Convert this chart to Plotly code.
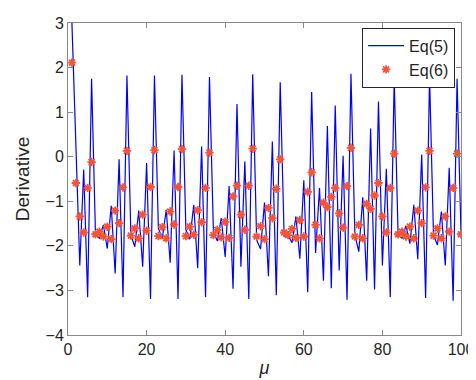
import plotly.graph_objects as go

# abscisse
mu = list(range(1, 101))

# Eq(5) - courbe bleue
eq5 = [3.0, 0.3, -2.44, -0.29, -3.15, 1.75, -1.76, -1.83, -1.53, -2.06,
       -1.10, -2.62, -0.06, -3.15, 1.82, -1.76, -2.02, -1.21, -2.47, -0.14,
       -3.19, 1.82, -1.61, -1.83, -1.19, -2.38, 0.14, -3.19, 1.84, -1.64,
       -1.85, -1.08, -2.50, 0.23, -3.15, 1.79, -1.68, -1.89, -1.38, -2.25,
       -0.66, -2.96, 1.18, -2.47, -0.11, -3.19, 1.85, -1.87, -2.07, -1.03,
       -2.68, 0.34, -3.11, 1.67, -1.79, -1.76, -1.93, -1.34, -2.29, -0.53,
       -3.04, 1.45, -2.16, -0.70, -2.78, 0.69, -2.95, 1.15, -2.55, 0.02,
       -3.21, 1.86, -1.76, -2.13, -0.91, -2.78, 0.63, -2.98, 1.24, -2.44,
       -0.27, -3.15, 1.76, -1.76, -1.83, -1.55, -1.95, -1.08, -2.30, 0.05,
       -3.17, 1.80, -1.76, -1.98, -1.23, -2.44, -0.25, -3.23, 1.75, -1.72]

# Eq(6) - étoiles rouges
eq6 = [2.11, -0.59, -1.34, -1.70, -0.70, -0.12, -1.74, -1.68, -1.79, -1.57,
       -1.85, -1.21, -1.49, -0.69, 0.13, -1.77, -1.61, -1.83, -1.30, -1.66,
       -0.68, 0.15, -1.78, -1.58, -1.83, -1.23, -1.52, -0.68, 0.17, -1.78,
       -1.57, -1.75, -1.20, -1.47, -0.70, 0.09, -1.76, -1.64, -1.81, -1.46,
       -1.82, -0.89, -0.65, -1.30, -1.64, -0.65, 0.18, -1.79, -1.56, -1.85,
       -1.15, -1.38, -0.72, -0.06, -1.70, -1.76, -1.62, -1.82, -1.42, -1.79,
       -0.79, -0.35, -1.53, -1.83, -1.03, -1.13, -0.90, -0.70, -1.27, -1.59,
       -0.66, 0.20, -1.79, -1.53, -1.83, -1.06, -1.17, -0.87, -0.59, -1.34,
       -1.70, -0.70, 0.07, -1.74, -1.68, -1.79, -1.57, -1.83, -1.21, -1.49,
       -0.69, 0.13, -1.77, -1.61, -1.83, -1.34, -1.68, -0.70, 0.07, -1.74]

fig = go.Figure()
fig.add_trace(go.Scatter(x=mu, y=eq5, mode="lines", name="Eq(5)",
                         line=dict(color="#0000ff", width=1.2)))
fig.add_trace(go.Scatter(x=mu, y=eq6, mode="markers", name="Eq(6)",
                         marker=dict(symbol="asterisk-open", size=7,
                                     line=dict(color="#ff0000", width=1.8))))

axe = dict(showline=True, linecolor="#8a8a8a", linewidth=1, mirror="ticks",
           ticks="inside", ticklen=5, tickcolor="#8a8a8a", showgrid=False,
           zeroline=False, automargin=False,
           tickfont=dict(size=16, color="#262626"))

fig.update_layout(
    width=476, height=380,
    margin=dict(l=60, r=23, t=15, b=53),
    plot_bgcolor="white", paper_bgcolor="white",
    font=dict(family="Liberation Sans, Arial", color="#262626"),
    xaxis=dict(range=[0, 100], tick0=0, dtick=20,
               title=dict(text="<i>μ</i>", font=dict(size=18), standoff=4), **axe),
    yaxis=dict(range=[-4, 3], tick0=-4, dtick=1,
               title=dict(text="Derivative", font=dict(size=19), standoff=10), **axe),
    legend=dict(x=0.985, y=0.985, xanchor="right", yanchor="top",
                bordercolor="#262626", borderwidth=1, bgcolor="white",
                font=dict(size=16), tracegroupgap=0, itemwidth=36),
    showlegend=True,
)

fig.write_html("out.html")
